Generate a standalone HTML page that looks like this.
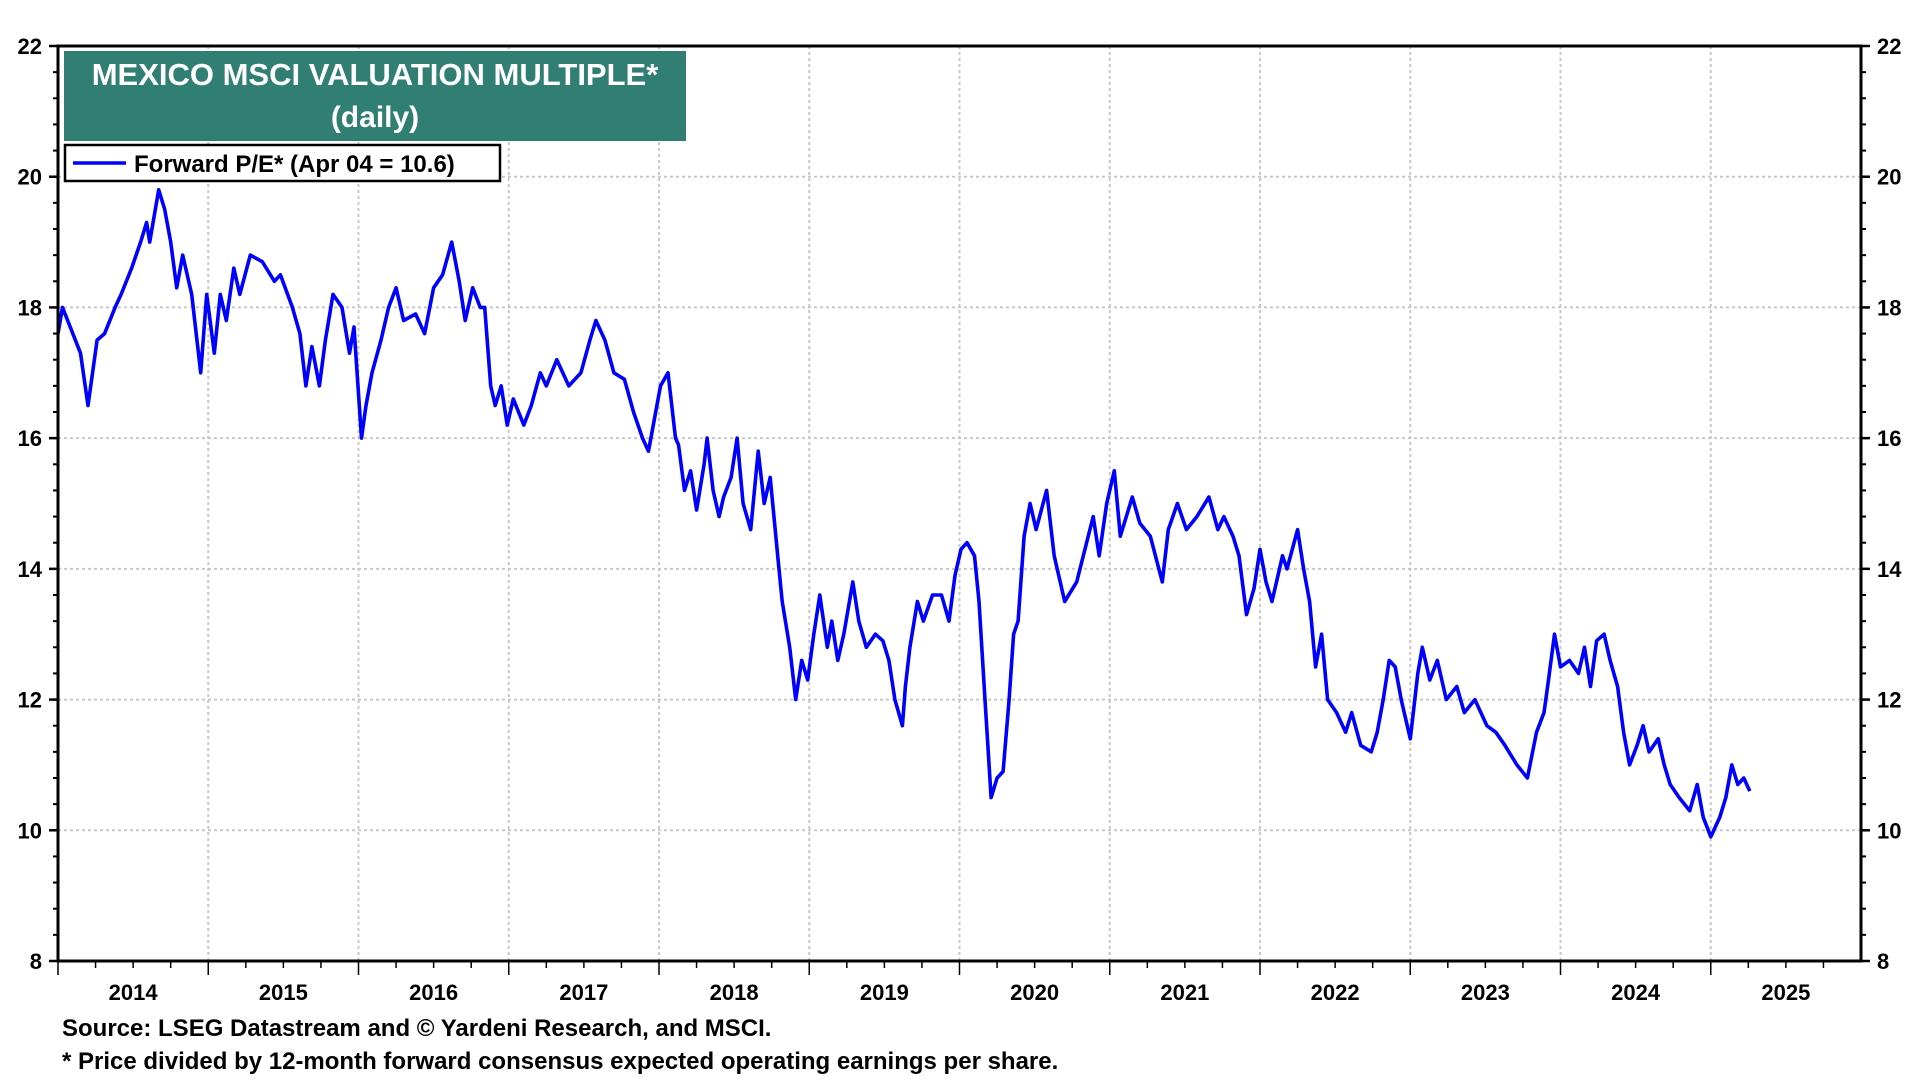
<!DOCTYPE html>
<html><head><meta charset="utf-8"><style>
body{margin:0;background:#fff;font-family:"Liberation Sans",Arial,sans-serif;}
svg text{font-family:"Liberation Sans",Arial,sans-serif;font-weight:bold;}
</style></head><body>
<svg id="chart" width="1920" height="1080" xmlns="http://www.w3.org/2000/svg">
<g id="grid"></g>
<g id="axes"></g>
<path id="series" fill="none" stroke="#0000ff" stroke-width="3.6" stroke-linejoin="round"/>
<rect x="58" y="46" width="1803" height="915" fill="none" stroke="#000" stroke-width="3"/>
<rect x="64" y="51" width="622" height="90" fill="#317f72"/>
<text x="375" y="85" fill="#fff" font-size="31" text-anchor="middle">MEXICO MSCI VALUATION MULTIPLE*</text>
<text x="375" y="127" fill="#fff" font-size="30" text-anchor="middle">(daily)</text>
<g>
<rect x="65" y="145" width="435" height="36" fill="#fff" stroke="#000" stroke-width="2.5"/>
<line x1="73" y1="163" x2="126" y2="163" stroke="#0000ff" stroke-width="3.5"/>
<text x="134" y="172" font-size="24">Forward P/E* (Apr 04 = 10.6)</text>
</g>
<text x="62" y="1036" font-size="24">Source: LSEG Datastream and © Yardeni Research, and MSCI.</text>
<text x="62" y="1069" font-size="24">* Price divided by 12-month forward consensus expected operating earnings per share.</text>
</svg>
<script>
const yTicks=[8,10,12,14,16,18,20,22];
const yearLabels=["2014","2015","2016","2017","2018","2019","2020","2021","2022","2023","2024","2025"];
const dates=[0,.03,.15,.20,.26,.31,.38,.42,.49,.55,.59,.61,.67,.71,.75,.79,.83,.89,.95,.99,1.04,1.08,1.12,1.17,1.21,1.28,1.36,1.44,1.48,1.56,1.61,1.65,1.69,1.74,1.78,1.83,1.89,1.94,1.97,2.02,2.05,2.09,2.15,2.20,2.25,2.30,2.38,2.44,2.50,2.56,2.62,2.67,2.71,2.76,2.81,2.84,2.88,2.91,2.95,2.99,3.03,3.10,3.15,3.21,3.25,3.32,3.40,3.48,3.54,3.58,3.64,3.70,3.77,3.83,3.89,3.93,3.97,4.01,4.06,4.11,4.13,4.17,4.21,4.25,4.30,4.32,4.36,4.40,4.43,4.48,4.52,4.56,4.61,4.66,4.70,4.74,4.79,4.82,4.87,4.91,4.95,4.99,5.03,5.07,5.12,5.15,5.19,5.23,5.29,5.33,5.38,5.44,5.49,5.53,5.57,5.62,5.64,5.67,5.72,5.76,5.82,5.88,5.93,5.97,6.01,6.05,6.10,6.13,6.17,6.21,6.25,6.29,6.33,6.36,6.39,6.43,6.47,6.51,6.58,6.63,6.70,6.78,6.89,6.93,6.98,7.03,7.07,7.15,7.20,7.27,7.35,7.39,7.45,7.51,7.58,7.66,7.72,7.76,7.82,7.86,7.91,7.96,8.00,8.04,8.08,8.15,8.18,8.25,8.29,8.33,8.37,8.41,8.45,8.51,8.57,8.61,8.67,8.74,8.78,8.82,8.86,8.90,8.94,9.00,9.05,9.08,9.13,9.18,9.24,9.31,9.36,9.43,9.51,9.57,9.63,9.71,9.78,9.84,9.89,9.92,9.96,10.00,10.06,10.12,10.16,10.20,10.24,10.29,10.33,10.38,10.42,10.46,10.51,10.55,10.59,10.65,10.69,10.73,10.79,10.86,10.91,10.95,11.00,11.06,11.10,11.14,11.18,11.22,11.26];
const values=[17.6,18.0,17.3,16.5,17.5,17.6,18.0,18.2,18.6,19.0,19.3,19.0,19.8,19.5,19.0,18.3,18.8,18.2,17.0,18.2,17.3,18.2,17.8,18.6,18.2,18.8,18.7,18.4,18.5,18.0,17.6,16.8,17.4,16.8,17.5,18.2,18.0,17.3,17.7,16.0,16.5,17.0,17.5,18.0,18.3,17.8,17.9,17.6,18.3,18.5,19.0,18.4,17.8,18.3,18.0,18.0,16.8,16.5,16.8,16.2,16.6,16.2,16.5,17.0,16.8,17.2,16.8,17.0,17.5,17.8,17.5,17.0,16.9,16.4,16.0,15.8,16.3,16.8,17.0,16.0,15.9,15.2,15.5,14.9,15.6,16.0,15.2,14.8,15.1,15.4,16.0,15.0,14.6,15.8,15.0,15.4,14.2,13.5,12.8,12.0,12.6,12.3,13.0,13.6,12.8,13.2,12.6,13.0,13.8,13.2,12.8,13.0,12.9,12.6,12.0,11.6,12.2,12.8,13.5,13.2,13.6,13.6,13.2,13.9,14.3,14.4,14.2,13.5,12.0,10.5,10.8,10.9,12.0,13.0,13.2,14.5,15.0,14.6,15.2,14.2,13.5,13.8,14.8,14.2,15.0,15.5,14.5,15.1,14.7,14.5,13.8,14.6,15.0,14.6,14.8,15.1,14.6,14.8,14.5,14.2,13.3,13.7,14.3,13.8,13.5,14.2,14.0,14.6,14.0,13.5,12.5,13.0,12.0,11.8,11.5,11.8,11.3,11.2,11.5,12.0,12.6,12.5,12.0,11.4,12.4,12.8,12.3,12.6,12.0,12.2,11.8,12.0,11.6,11.5,11.3,11.0,10.8,11.5,11.8,12.3,13.0,12.5,12.6,12.4,12.8,12.2,12.9,13.0,12.6,12.2,11.5,11.0,11.3,11.6,11.2,11.4,11.0,10.7,10.5,10.3,10.7,10.2,9.9,10.2,10.5,11.0,10.7,10.8,10.6];
const L=58,R=1861,T=46,B=961,yMin=8,yMax=22,xMin=0,xMax=12;
const xs=d=>L+(d-xMin)/(xMax-xMin)*(R-L);
const ys=v=>B-(v-yMin)/(yMax-yMin)*(B-T);
const NS="http://www.w3.org/2000/svg";
function mk(tag,parent,attrs){const e=document.createElementNS(NS,tag);for(const k in attrs)e.setAttribute(k,attrs[k]);parent.appendChild(e);return e;}
const grid=document.getElementById('grid'),axes=document.getElementById('axes');
yTicks.forEach(v=>{
  const y=ys(v);
  if(v>yMin&&v<yMax){const g=mk('line',grid,{x1:L,x2:R,y1:y,y2:y,stroke:'#c8c8c8','stroke-width':2,'stroke-dasharray':'3,3'});
  
  }
  const t1=mk('text',axes,{x:L-16,y:y+8,'font-size':22,'text-anchor':'end'});t1.textContent=v;
  
  
  const t2=mk('text',axes,{x:R+16,y:y+8,'font-size':22,'text-anchor':'start'});t2.textContent=v;
  
  
  mk('line',axes,{x1:L-9,x2:L,y1:y,y2:y,stroke:'#000','stroke-width':2.5});
  mk('line',axes,{x1:R,x2:R+9,y1:y,y2:y,stroke:'#000','stroke-width':2.5});
});
for(let v=yMin;v<yMax;v+=0.4){const y=ys(v);mk('line',axes,{x1:L-5,x2:L,y1:y,y2:y,stroke:'#000','stroke-width':2});mk('line',axes,{x1:R,x2:R+5,y1:y,y2:y,stroke:'#000','stroke-width':2});}
yearLabels.forEach((lab,i)=>{
  const x=xs(i);
  if(i>0){const g=mk('line',grid,{x1:x,x2:x,y1:T,y2:B,stroke:'#c8c8c8','stroke-width':2,'stroke-dasharray':'3,3'});
  
  }
  mk('line',axes,{x1:x,x2:x,y1:B,y2:B+14,stroke:'#000','stroke-width':1.5});
  for(let q=1;q<4;q++){const xq=xs(i+q/4);mk('line',axes,{x1:xq,x2:xq,y1:B,y2:B+7,stroke:'#000','stroke-width':1.5});}
  const t=mk('text',axes,{x:xs(i+0.5),y:B+39,'font-size':22,'text-anchor':'middle'});t.textContent=lab;
  
  
});
let d='';dates.forEach((dt,i)=>{d+=(i?'L':'M')+xs(dt).toFixed(1)+','+ys(values[i]).toFixed(1);});
document.getElementById('series').setAttribute('d',d);
</script>
</body></html>
